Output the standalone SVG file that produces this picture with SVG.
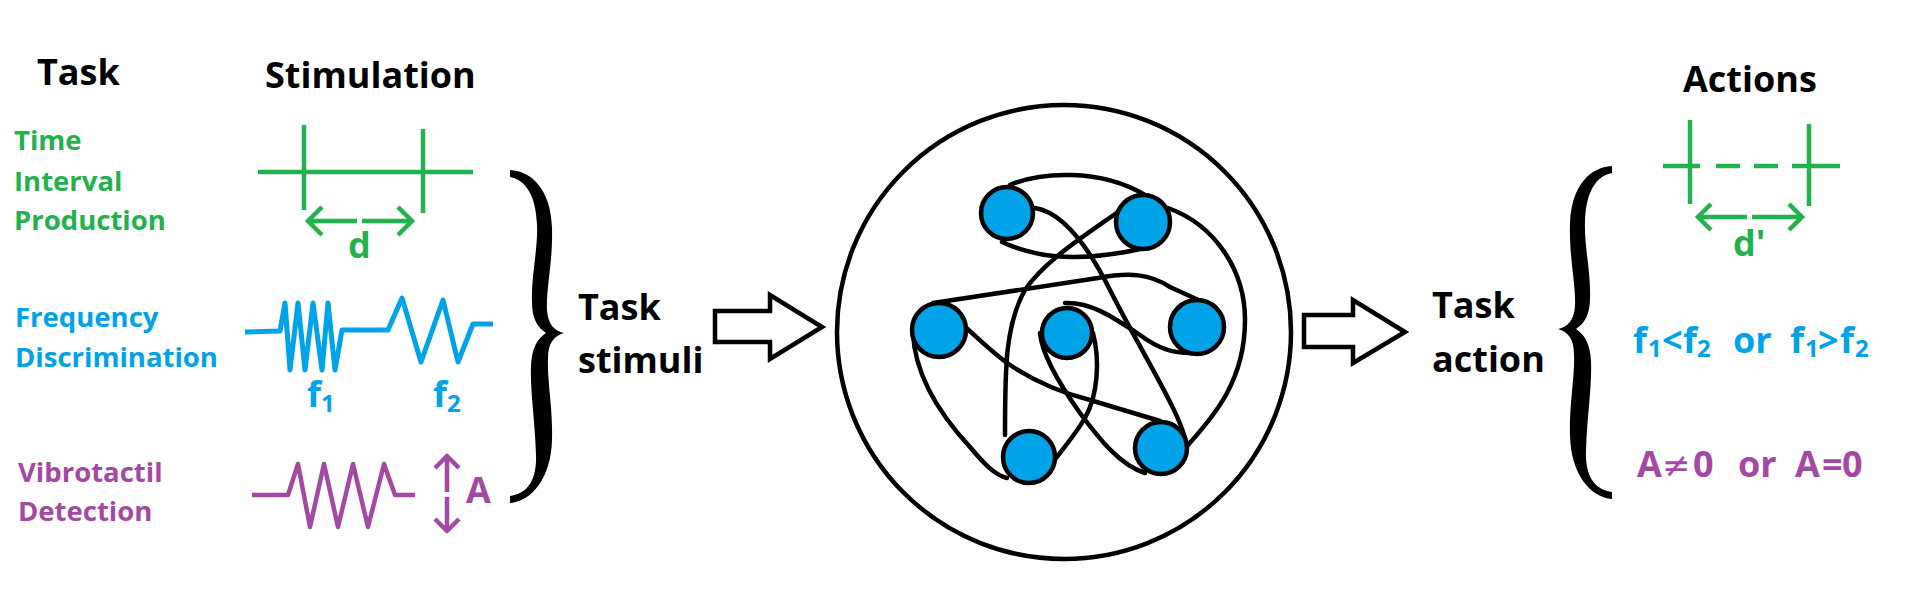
<svg xmlns="http://www.w3.org/2000/svg" xmlns:xlink="http://www.w3.org/1999/xlink" width="1912" height="602" viewBox="0 0 1912 602">
<style>
text{font-family:"Open Sans","Noto Sans","DejaVu Sans",sans-serif;font-weight:700}
.h{font-size:36px;fill:#000}
.lab{font-size:27.5px}
.big{font-size:36px}
.sub{font-size:24px}
.ne{font-family:"DejaVu Sans",sans-serif;font-weight:400;font-size:34px}
.g{fill:#22B14C}.b{fill:#00A2E8}.p{fill:#A349A4}
.gs{stroke:#22B14C;stroke-width:4.5;fill:none}
.bs{stroke:#00A2E8;stroke-width:5;fill:none;stroke-linejoin:round}
.ps{stroke:#A349A4;stroke-width:4.5;fill:none;stroke-linejoin:round}
.conn{stroke:#000;stroke-width:4.5;fill:none;stroke-linecap:round}
.node{fill:#00A2E8;stroke:#000;stroke-width:4.5}
.hollow{fill:#fff;stroke:#000;stroke-width:4.5;stroke-linejoin:miter}
</style>
<defs>
<path id="brace" d="M510,170 C532,171 551,190 552,228 C553,262 546,288 547,310 C548,324 554,331 564,333 C554,336 548,343 548,358 C547,382 553,408 552,440 C551,478 532,501 510,503 L510,496 C526,494 537,482 536,455 C535,420 530,392 531,365 C532,348 537,339 546,333 C537,327 532,318 532,302 C531,276 538,250 537,225 C536,196 526,180 510,177 Z" fill="#000"/>
</defs>
<rect width="1912" height="602" fill="#fff"/>

<g id="headers">
<text class="h" x="37" y="85">Task</text>
<text class="h" x="265" y="88">Stimulation</text>
<text class="h" x="1683" y="92">Actions</text>
</g>

<g id="task-labels">
<text class="lab g" x="14" y="150">Time</text>
<text class="lab g" x="14" y="191">Interval</text>
<text class="lab g" x="14" y="230">Production</text>
<text class="lab b" x="15" y="327">Frequency</text>
<text class="lab b" x="15" y="367">Discrimination</text>
<text class="lab p" x="18" y="482">Vibrotactil</text>
<text class="lab p" x="18" y="521">Detection</text>
</g>

<g id="stim-time">
<line class="gs" x1="258" y1="172" x2="473" y2="172"/>
<line class="gs" x1="304" y1="125" x2="304" y2="210"/>
<line class="gs" x1="423" y1="129" x2="423" y2="213"/>
<line class="gs" x1="308" y1="221" x2="357" y2="221"/>
<line class="gs" x1="362" y1="221" x2="412" y2="221"/>
<polyline class="gs" points="322,207 308,221 322,235"/>
<polyline class="gs" points="398,207 412,221 398,235"/>
<text class="big g" x="348" y="258">d</text>
</g>

<g id="stim-freq">
<polyline class="bs" points="245,332 280,331 285,303 290,370 298,303 305,370 313,303 322,370 328,303 335,370 342,330 388,330 402,298 421,362 443,300 458,362 473,324 493,324"/>
<text class="big b" x="307" y="407">f<tspan class="sub" dy="5">1</tspan></text>
<text class="big b" x="433" y="407">f<tspan class="sub" dy="5">2</tspan></text>
</g>

<g id="stim-vib">
<polyline class="ps" points="252,495 288,495 298,464 310,527 324,464 338,527 353,464 368,527 384,464 395,495 415,495"/>
<line class="ps" x1="447" y1="456" x2="447" y2="492"/>
<line class="ps" x1="447" y1="497" x2="447" y2="531"/>
<polyline class="ps" points="435,468 447,456 459,468"/>
<polyline class="ps" points="435,519 447,531 459,519"/>
<text class="big p" x="466" y="503">A</text>
</g>

<g id="brace-left"><use xlink:href="#brace"/></g>

<g id="task-stimuli">
<text class="h" x="578" y="320">Task</text>
<text class="h" x="578" y="373">stimuli</text>
</g>

<g id="arrow-in">
<path class="hollow" d="M715,311 L770,311 L770,295 L822,327 L770,359 L770,342 L715,342 Z"/>
</g>

<g id="network">
<circle cx="1064" cy="332" r="227" fill="none" stroke="#000" stroke-width="4.5"/>
</g>

<g id="connectors">
<path class="conn" d="M1010,185 C1040,172 1100,168 1145,195"/>
<path class="conn" d="M1002,242 C1030,255 1070,265 1145,248"/>
<path class="conn" d="M1035,208 C1060,212 1085,240 1110,290 C1140,350 1185,420 1186,445"/>
<path class="conn" d="M1118,212 C1090,232 1045,260 1025,290 C1005,325 1005,370 1005,435"/>
<path class="conn" d="M1168,208 C1215,225 1245,270 1245,320 C1245,380 1215,415 1188,445"/>
<path class="conn" d="M933,303 L1098,278 C1130,272 1150,274 1170,287 L1205,303"/>
<path class="conn" d="M963,325 C980,340 995,355 1010,365 C1040,385 1070,395 1090,400 L1160,421"/>
<path class="conn" d="M913,333 C915,380 945,420 970,447 C985,465 995,475 1007,478"/>
<path class="conn" d="M1065,303 C1090,302 1110,315 1140,335 C1160,350 1175,353 1190,353"/>
<path class="conn" d="M1040,333 C1042,355 1060,385 1080,413 C1100,440 1120,465 1145,473"/>
<path class="conn" d="M1093,333 C1100,360 1098,395 1085,418 C1075,435 1062,450 1053,462"/>
</g>

<g id="node1"><circle class="node" cx="1007" cy="213" r="26"/></g>
<g id="node2"><circle class="node" cx="1143" cy="222" r="27"/></g>
<g id="node3"><circle class="node" cx="939" cy="330" r="27"/></g>
<g id="node4"><circle class="node" cx="1067" cy="333" r="25"/></g>
<g id="node5"><circle class="node" cx="1197" cy="327" r="27"/></g>
<g id="node6"><circle class="node" cx="1029" cy="457" r="26"/></g>
<g id="node7"><circle class="node" cx="1161" cy="448" r="26"/></g>

<g id="arrow-out">
<path class="hollow" d="M1304,315 L1353,315 L1353,300 L1405,332 L1353,363 L1353,347 L1304,347 Z"/>
</g>

<g id="task-action">
<text class="h" x="1432" y="318">Task</text>
<text class="h" x="1432" y="372">action</text>
</g>

<g id="brace-right"><use xlink:href="#brace" transform="matrix(-1 0 0 1 2122 -4)"/></g>

<g id="action-time">
<line class="gs" x1="1663" y1="166" x2="1700" y2="166"/>
<line class="gs" x1="1716" y1="166" x2="1740" y2="166"/>
<line class="gs" x1="1754" y1="166" x2="1778" y2="166"/>
<line class="gs" x1="1792" y1="166" x2="1840" y2="166"/>
<line class="gs" x1="1690" y1="120" x2="1690" y2="204"/>
<line class="gs" x1="1809" y1="124" x2="1809" y2="206"/>
<line class="gs" x1="1698" y1="217" x2="1747" y2="217"/>
<line class="gs" x1="1752" y1="217" x2="1802" y2="217"/>
<polyline class="gs" points="1711,204 1698,217 1711,230"/>
<polyline class="gs" points="1789,204 1802,217 1789,230"/>
<text class="big g" x="1733" y="256">d'</text>
</g>

<g id="action-freq">
<text class="big b" y="353"><tspan x="1633">f</tspan><tspan class="sub" x="1648" dy="4">1</tspan><tspan x="1662" dy="-4">&lt;</tspan><tspan x="1683">f</tspan><tspan class="sub" x="1697" dy="4">2</tspan><tspan x="1733" dy="-4">or</tspan><tspan x="1790">f</tspan><tspan class="sub" x="1805" dy="4">1</tspan><tspan x="1818" dy="-4">&gt;</tspan><tspan x="1840">f</tspan><tspan class="sub" x="1855" dy="4">2</tspan></text>
</g>

<g id="action-vib">
<text class="big p" y="477"><tspan x="1637">A</tspan><tspan class="ne" x="1662">≠</tspan><tspan x="1693">0</tspan><tspan x="1738">or</tspan><tspan x="1795">A</tspan><tspan x="1822">=</tspan><tspan x="1842">0</tspan></text>
</g>
</svg>
